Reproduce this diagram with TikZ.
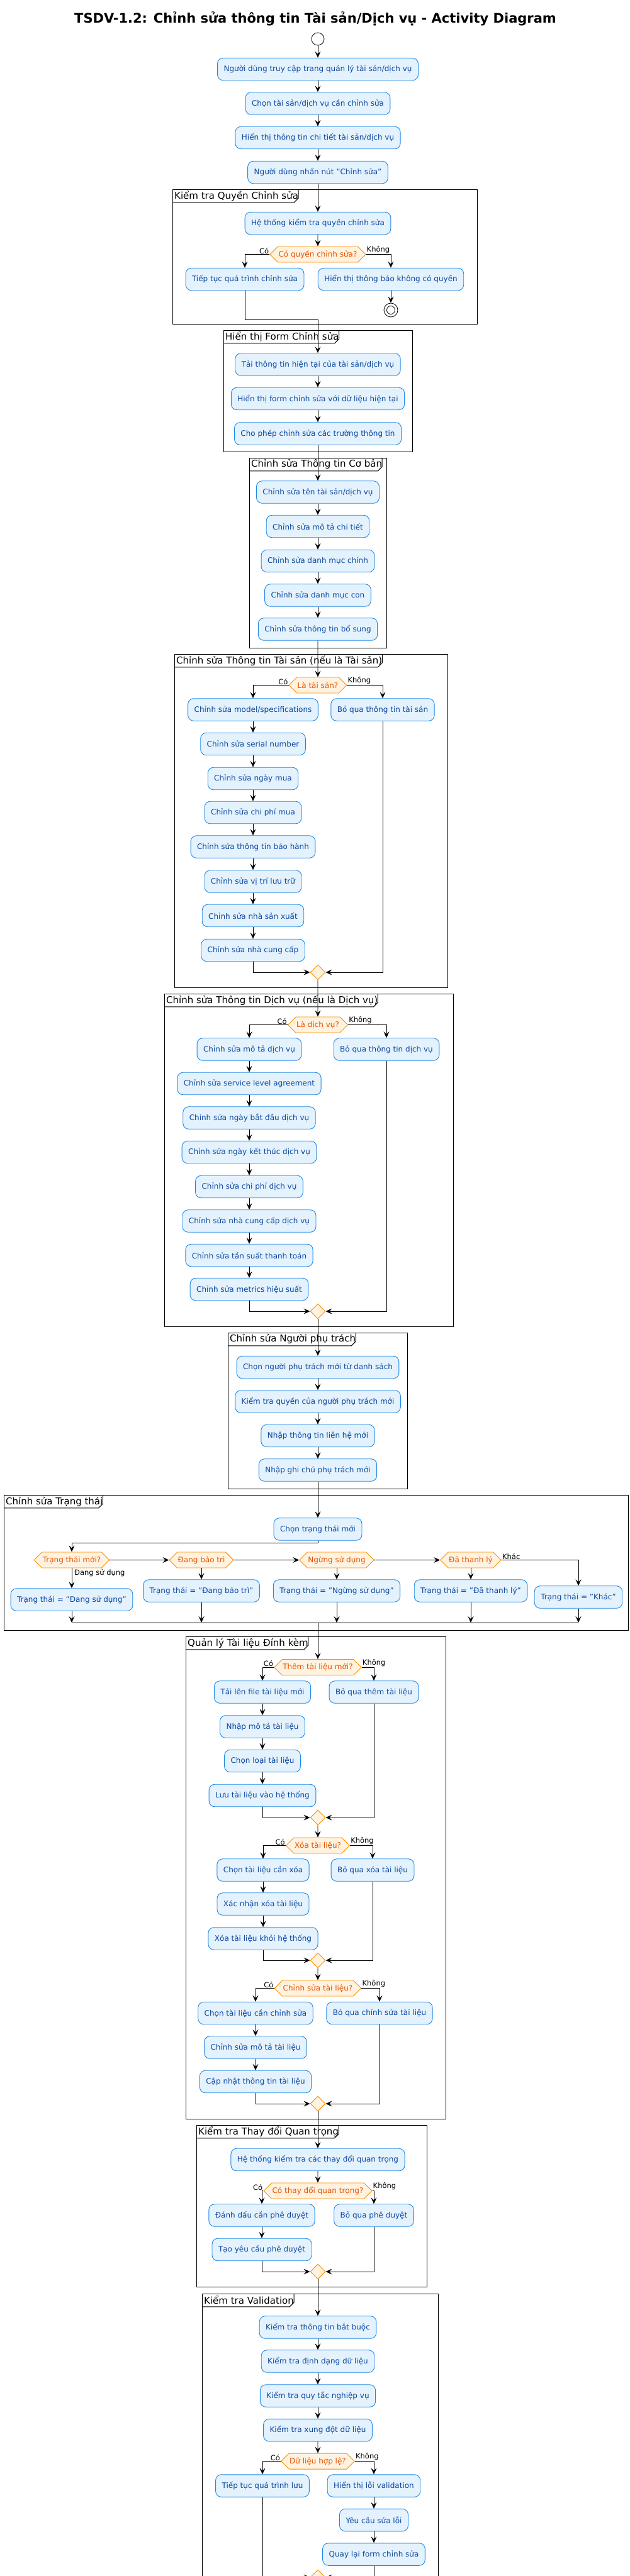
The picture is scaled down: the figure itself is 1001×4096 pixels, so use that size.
\documentclass[tikz,border=0pt]{standalone}
\usepackage{fontspec}
\setmainfont{DejaVu Sans}
\usetikzlibrary{shapes.geometric,shapes.symbols,arrows.meta,calc}
\definecolor{boxfill}{HTML}{E3F2FD}
\definecolor{boxdraw}{HTML}{1E88E5}
\definecolor{boxtext}{HTML}{0D47A1}
\definecolor{decfill}{HTML}{FFF3E0}
\definecolor{decdraw}{HTML}{FB8C00}
\definecolor{dectext}{HTML}{E65100}
\newcommand\myframe[6]{%
  \draw[frm] (#2,#3) rectangle (#4,#5);
  \node[flab] (#1) at (#2,#3) {\hspace{3pt}#6\hspace{9pt}};
  \draw[frm] (#1.south west) -- ([xshift=-7pt]#1.south east) -- ([yshift=7pt]#1.south east) -- (#1.north east);
}
\begin{document}
\begin{tikzpicture}[x=1pt,y=-1pt,
  act/.style={draw=boxdraw, fill=boxfill, text=boxtext, rounded corners=9pt, line width=0.9pt,
    minimum height=35.5pt, inner xsep=10pt, font=\fontsize{12}{14}\selectfont},
  dec/.style={signal, signal to=east and west, signal pointer angle=90, draw=decdraw, fill=decfill,
    text=dectext, line width=0.9pt, minimum height=25pt, inner xsep=1pt, inner ysep=2pt,
    font=\fontsize{12}{14}\selectfont},
  merge/.style={diamond, draw=decdraw, fill=decfill, minimum width=24pt, minimum height=24pt,
    inner sep=0pt, line width=0.9pt},
  flow/.style={draw, line width=0.8pt, -{Stealth[length=10pt,width=9pt,inset=4pt]}},
  plain/.style={draw, line width=0.8pt},
  lbl/.style={font=\fontsize{11.5}{13}\selectfont, inner sep=1pt},
  frm/.style={line width=1pt},
  flab/.style={font=\fontsize{15}{17}\selectfont, inner xsep=0pt, inner ysep=0pt, minimum height=20.5pt, anchor=north west}
]
\useasboundingbox (0,0) rectangle (1001,4096);
\clip (0,0) rectangle (1001,4096);
\fill[white] (0,0) rectangle (1001,4096);

% frames
\myframe{F1}{274}{301}{758}{515}{Kiểm tra Quyền Chỉnh sửa}
\myframe{F2}{355}{525}{655}{718}{Hiển thị Form Chỉnh sửa}
\myframe{F3}{396}{728}{614}{1030}{Chỉnh sửa Thông tin Cơ bản}
\myframe{F4}{277}{1040}{711}{1570}{Chỉnh sửa Thông tin Tài sản (nếu là Tài sản)}
\myframe{F5}{261}{1580}{720}{2109}{Chỉnh sửa Thông tin Dịch vụ (nếu là Dịch vụ)}
\myframe{F6}{362}{2119}{647}{2367}{Chỉnh sửa Người phụ trách}
\myframe{F7}{6}{2377}{998.5}{2592}{Chỉnh sửa Trạng thái}
\myframe{F8}{295}{2602}{708}{3369}{Quản lý Tài liệu Đính kèm}
\myframe{F9}{312}{3379}{678}{3636}{Kiểm tra Thay đổi Quan trọng}
\myframe{F10}{321}{3647}{696}{4200}{Kiểm tra Validation}

% title
\node[font=\bfseries\fontsize{21}{25}\selectfont] (title) at (501,30) {TSDV-1.2: Chỉnh sửa thông tin Tài sản/Dịch vụ - Activity Diagram};

% top
\node[circle, draw, fill=white, minimum size=20pt, inner sep=0pt, line width=0.8pt] (start) at (505,62) {};
\node[act] (a1) at (505,110) {Người dùng truy cập trang quản lý tài sản/dịch vụ};
\node[act] (a2) at (505,164.5) {Chọn tài sản/dịch vụ cần chỉnh sửa};
\node[act] (a3) at (505,219) {Hiển thị thông tin chi tiết tài sản/dịch vụ};
\node[act] (a4) at (505,274) {Người dùng nhấn nút "Chỉnh sửa"};

% frame 1
\node[act] (b1) at (505,355) {Hệ thống kiểm tra quyền chỉnh sửa};
\node[dec] (d1) at (505,404.5) {Có quyền chỉnh sửa?};
\node[act] (b2) at (389,444) {Tiếp tục quá trình chỉnh sửa};
\node[act] (b3) at (621,444) {Hiển thị thông báo không có quyền};
\node[circle, draw, fill=white, minimum size=22pt, inner sep=0pt, line width=0.8pt] (stopn) at (621,493) {};
\node[circle, draw, fill=white, minimum size=13pt, inner sep=0pt, line width=0.8pt] (stopi) at (621,493) {};
\coordinate (j1) at (505,508);

% frame 2
\node[act] (c1) at (505,579.5) {Tải thông tin hiện tại của tài sản/dịch vụ};
\node[act] (c2) at (505,634) {Hiển thị form chỉnh sửa với dữ liệu hiện tại};
\node[act] (c3) at (505,689.5) {Cho phép chỉnh sửa các trường thông tin};

% frame 3
\node[act] (e1) at (505,782.5) {Chỉnh sửa tên tài sản/dịch vụ};
\node[act] (e2) at (505,837) {Chỉnh sửa mô tả chi tiết};
\node[act] (e3) at (505,892) {Chỉnh sửa danh mục chính};
\node[act] (e4) at (505,946.5) {Chỉnh sửa danh mục con};
\node[act] (e5) at (505,1000.5) {Chỉnh sửa thông tin bổ sung};

% frame 4
\node[dec] (d2) at (505,1089.5) {Là tài sản?};
\node[act] (f1) at (402,1128.5) {Chỉnh sửa model/specifications};
\node[act] (fs) at (608,1128.5) {Bỏ qua thông tin tài sản};
\node[act] (f2) at (402,1183) {Chỉnh sửa serial number};
\node[act] (f3) at (402,1238) {Chỉnh sửa ngày mua};
\node[act] (f4) at (402,1292) {Chỉnh sửa chi phí mua};
\node[act] (f5) at (402,1346.5) {Chỉnh sửa thông tin bảo hành};
\node[act] (f6) at (402,1401.5) {Chỉnh sửa vị trí lưu trữ};
\node[act] (f7) at (402,1456) {Chỉnh sửa nhà sản xuất};
\node[act] (f8) at (402,1511) {Chỉnh sửa nhà cung cấp};
\node[merge] (m1) at (505,1546) {};

% frame 5
\node[dec] (d3) at (505,1629.5) {Là dịch vụ?};
\node[act] (g1) at (396,1668.5) {Chỉnh sửa mô tả dịch vụ};
\node[act] (gs) at (614,1668.5) {Bỏ qua thông tin dịch vụ};
\node[act] (g2) at (396,1723) {Chỉnh sửa service level agreement};
\node[act] (g3) at (396,1777.5) {Chỉnh sửa ngày bắt đầu dịch vụ};
\node[act] (g4) at (396,1832) {Chỉnh sửa ngày kết thúc dịch vụ};
\node[act] (g5) at (396,1887) {Chỉnh sửa chi phí dịch vụ};
\node[act] (g6) at (396,1941.5) {Chỉnh sửa nhà cung cấp dịch vụ};
\node[act] (g7) at (396,1996) {Chỉnh sửa tần suất thanh toán};
\node[act] (g8) at (396,2050) {Chỉnh sửa metrics hiệu suất};
\node[merge] (m2) at (505,2085) {};

% frame 6
\node[act] (h1) at (505,2174) {Chọn người phụ trách mới từ danh sách};
\node[act] (h2) at (505,2228.5) {Kiểm tra quyền của người phụ trách mới};
\node[act] (h3) at (505,2283) {Nhập thông tin liên hệ mới};
\node[act] (h4) at (505,2337.5) {Nhập ghi chú phụ trách mới};

% frame 7
\node[act] (t0) at (505,2431.5) {Chọn trạng thái mới};
\coordinate (jt) at (505,2453);
\node[dec] (s1) at (114,2480.5) {Trạng thái mới?};
\node[dec] (s2) at (320,2480.5) {Đang bảo trì};
\node[dec] (s3) at (535,2480.5) {Ngừng sử dụng};
\node[dec] (s4) at (748,2480.5) {Đã thanh lý};
\node[act] (u1) at (114,2543.5) {Trạng thái = "Đang sử dụng"};
\node[act] (u2) at (320,2529.5) {Trạng thái = "Đang bảo trì"};
\node[act] (u3) at (535,2529.5) {Trạng thái = "Ngừng sử dụng"};
\node[act] (u4) at (748,2529.5) {Trạng thái = "Đã thanh lý"};
\node[act] (u5) at (919,2539.5) {Trạng thái = "Khác"};
\coordinate (jb) at (505,2580);

% frame 8
\node[dec] (k0) at (505,2651) {Thêm tài liệu mới?};
\node[act] (k1) at (417,2690.5) {Tải lên file tài liệu mới};
\node[act] (ks) at (594,2690.5) {Bỏ qua thêm tài liệu};
\node[act] (k2) at (417,2745.5) {Nhập mô tả tài liệu};
\node[act] (k3) at (417,2800) {Chọn loại tài liệu};
\node[act] (k4) at (417,2855) {Lưu tài liệu vào hệ thống};
\node[merge] (m3) at (505,2890) {};
\node[dec] (l0) at (505,2934.5) {Xóa tài liệu?};
\node[act] (l1) at (418,2973.5) {Chọn tài liệu cần xóa};
\node[act] (ls) at (592,2973.5) {Bỏ qua xóa tài liệu};
\node[act] (l2) at (418,3027.5) {Xác nhận xóa tài liệu};
\node[act] (l3) at (418,3082.5) {Xóa tài liệu khỏi hệ thống};
\node[merge] (m4) at (505,3117) {};
\node[dec] (n0) at (505,3161.5) {Chỉnh sửa tài liệu?};
\node[act] (n1) at (406,3201) {Chọn tài liệu cần chỉnh sửa};
\node[act] (ns) at (603,3201) {Bỏ qua chỉnh sửa tài liệu};
\node[act] (n2) at (406,3255.5) {Chỉnh sửa mô tả tài liệu};
\node[act] (n3) at (406,3310) {Cập nhật thông tin tài liệu};
\node[merge] (m5) at (505,3345) {};

% frame 9
\node[act] (p0) at (505,3434) {Hệ thống kiểm tra các thay đổi quan trọng};
\node[dec] (p1) at (505,3483.5) {Có thay đổi quan trọng?};
\node[act] (p2) at (416,3522.5) {Đánh dấu cần phê duyệt};
\node[act] (ps) at (594,3522.5) {Bỏ qua phê duyệt};
\node[act] (p3) at (416,3577) {Tạo yêu cầu phê duyệt};
\node[merge] (m6) at (505,3612) {};

% frame 10
\node[act] (q1) at (505,3700.5) {Kiểm tra thông tin bắt buộc};
\node[act] (q2) at (505,3754.5) {Kiểm tra định dạng dữ liệu};
\node[act] (q3) at (505,3809.5) {Kiểm tra quy tắc nghiệp vụ};
\node[act] (q4) at (505,3864) {Kiểm tra xung đột dữ liệu};
\node[dec] (r0) at (505,3913.5) {Dữ liệu hợp lệ?};
\node[act] (r1) at (417,3952.5) {Tiếp tục quá trình lưu};
\node[act] (r2) at (594,3952.5) {Hiển thị lỗi validation};
\node[act] (r3) at (594,4007) {Yêu cầu sửa lỗi};
\node[act] (r4) at (594,4061.5) {Quay lại form chỉnh sửa};
\node[merge] (m7) at (505,4098) {};

% connectors
\draw[flow] (start) -- (a1);
\draw[flow] (a1) -- (a2);
\draw[flow] (a2) -- (a3);
\draw[flow] (a3) -- (a4);
\draw[flow] (a4) -- (b1);
\draw[flow] (b1) -- (d1);
\draw[flow] (d1.west) -| (b2.north);
\draw[flow] (d1.east) -| (b3.north);
\node[lbl, anchor=south east] at (d1.west) {Có};
\node[lbl, anchor=south west] at (d1.east) {Không};
\draw[flow] (b3) -- (stopn);
\draw[flow] (b2.south) |- (j1) -- (c1.north);
\draw[flow] (c1) -- (c2);
\draw[flow] (c2) -- (c3);
\draw[flow] (c3) -- (e1);
\draw[flow] (e1) -- (e2);
\draw[flow] (e2) -- (e3);
\draw[flow] (e3) -- (e4);
\draw[flow] (e4) -- (e5);
\draw[flow] (e5) -- (d2);
\draw[flow] (d2.west) -| (f1.north);
\draw[flow] (d2.east) -| (fs.north);
\node[lbl, anchor=south east] at (d2.west) {Có};
\node[lbl, anchor=south west] at (d2.east) {Không};
\draw[flow] (f1) -- (f2);
\draw[flow] (f2) -- (f3);
\draw[flow] (f3) -- (f4);
\draw[flow] (f4) -- (f5);
\draw[flow] (f5) -- (f6);
\draw[flow] (f6) -- (f7);
\draw[flow] (f7) -- (f8);
\draw[flow] (f8.south) |- (m1.west);
\draw[flow] (fs.south) |- (m1.east);
\draw[flow] (m1) -- (d3);
\draw[flow] (d3.west) -| (g1.north);
\draw[flow] (d3.east) -| (gs.north);
\node[lbl, anchor=south east] at (d3.west) {Có};
\node[lbl, anchor=south west] at (d3.east) {Không};
\draw[flow] (g1) -- (g2);
\draw[flow] (g2) -- (g3);
\draw[flow] (g3) -- (g4);
\draw[flow] (g4) -- (g5);
\draw[flow] (g5) -- (g6);
\draw[flow] (g6) -- (g7);
\draw[flow] (g7) -- (g8);
\draw[flow] (g8.south) |- (m2.west);
\draw[flow] (gs.south) |- (m2.east);
\draw[flow] (m2) -- (h1);
\draw[flow] (h1) -- (h2);
\draw[flow] (h2) -- (h3);
\draw[flow] (h3) -- (h4);
\draw[flow] (h4) -- (t0);
\draw[flow] (t0.south) -- (jt) -| (s1.north);
\draw[flow] (s1.east) -- (s2.west);
\draw[flow] (s2.east) -- (s3.west);
\draw[flow] (s3.east) -- (s4.west);
\draw[flow] (s1.south) -- (u1.north);
\node[lbl, anchor=north west] at ([xshift=3pt,yshift=-1pt]s1.south) {Đang sử dụng};
\draw[flow] (s2.south) -- (u2.north);
\draw[flow] (s3.south) -- (u3.north);
\draw[flow] (s4.south) -- (u4.north);
\draw[flow] (s4.east) -| (u5.north);
\node[lbl, anchor=south west] at (s4.east) {Khác};
\draw[flow] (u1.south) -- (u1.south |- jb);
\draw[flow] (u2.south) -- (u2.south |- jb);
\draw[flow] (u3.south) -- (u3.south |- jb);
\draw[flow] (u4.south) -- (u4.south |- jb);
\draw[flow] (u5.south) -- (u5.south |- jb);
\draw[plain] (u1.south |- jb) -- (u5.south |- jb);
\draw[flow] (jb) -- (k0.north);
\draw[flow] (k0.west) -| (k1.north);
\draw[flow] (k0.east) -| (ks.north);
\node[lbl, anchor=south east] at (k0.west) {Có};
\node[lbl, anchor=south west] at (k0.east) {Không};
\draw[flow] (k1) -- (k2);
\draw[flow] (k2) -- (k3);
\draw[flow] (k3) -- (k4);
\draw[flow] (k4.south) |- (m3.west);
\draw[flow] (ks.south) |- (m3.east);
\draw[flow] (m3) -- (l0);
\draw[flow] (l0.west) -| (l1.north);
\draw[flow] (l0.east) -| (ls.north);
\node[lbl, anchor=south east] at (l0.west) {Có};
\node[lbl, anchor=south west] at (l0.east) {Không};
\draw[flow] (l1) -- (l2);
\draw[flow] (l2) -- (l3);
\draw[flow] (l3.south) |- (m4.west);
\draw[flow] (ls.south) |- (m4.east);
\draw[flow] (m4) -- (n0);
\draw[flow] (n0.west) -| (n1.north);
\draw[flow] (n0.east) -| (ns.north);
\node[lbl, anchor=south east] at (n0.west) {Có};
\node[lbl, anchor=south west] at (n0.east) {Không};
\draw[flow] (n1) -- (n2);
\draw[flow] (n2) -- (n3);
\draw[flow] (n3.south) |- (m5.west);
\draw[flow] (ns.south) |- (m5.east);
\draw[flow] (m5) -- (p0);
\draw[flow] (p0) -- (p1);
\draw[flow] (p1.west) -| (p2.north);
\draw[flow] (p1.east) -| (ps.north);
\node[lbl, anchor=south east] at (p1.west) {Có};
\node[lbl, anchor=south west] at (p1.east) {Không};
\draw[flow] (p2) -- (p3);
\draw[flow] (p3.south) |- (m6.west);
\draw[flow] (ps.south) |- (m6.east);
\draw[flow] (m6) -- (q1);
\draw[flow] (q1) -- (q2);
\draw[flow] (q2) -- (q3);
\draw[flow] (q3) -- (q4);
\draw[flow] (q4) -- (r0);
\draw[flow] (r0.west) -| (r1.north);
\draw[flow] (r0.east) -| (r2.north);
\node[lbl, anchor=south east] at (r0.west) {Có};
\node[lbl, anchor=south west] at (r0.east) {Không};
\draw[flow] (r2) -- (r3);
\draw[flow] (r3) -- (r4);
\draw[flow] (r1.south) |- (m7.west);
\draw[flow] (r4.south) |- (m7.east);
\end{tikzpicture}
\end{document}
